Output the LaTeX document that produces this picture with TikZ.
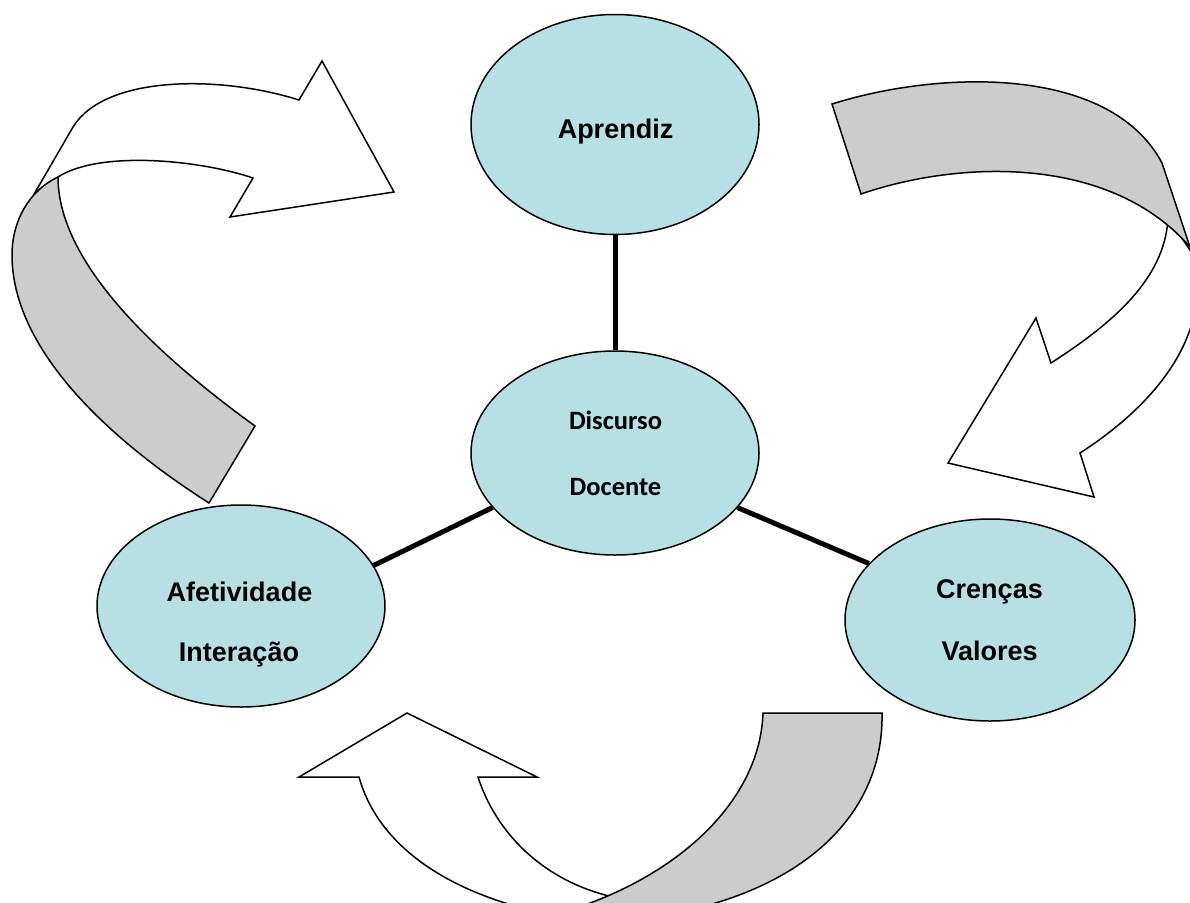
\documentclass[tikz,border=0pt]{standalone}
\usepackage{fontspec}
\setmainfont{Liberation Sans}
\newfontfamily\carlitofont{Carlito}
\usetikzlibrary{shapes.geometric}
\definecolor{paleblue}{RGB}{184,223,227}
\definecolor{bandgray}{RGB}{204,204,204}
\begin{document}
\begin{tikzpicture}[x=1pt,y=-1pt,
  bubble/.style={ellipse,draw=black,line width=1.5pt,fill=paleblue,inner sep=0pt,minimum width=288pt},
  lbl/.style={anchor=base,font=\fontsize{27}{30}\selectfont\bfseries,inner sep=0pt},
  dlbl/.style={anchor=base,font=\fontsize{26.5}{30}\selectfont\carlitofont\bfseries,inner sep=0pt},
  link/.style={line width=5pt},
  bandwhite/.style={draw=black,fill=white,line width=1.5pt,line join=miter},
  bandback/.style={draw=black,fill=bandgray,line width=1.5pt,line join=miter}]
\useasboundingbox (0,0) rectangle (1190,902);

% ---------- top-left curved arrow ----------
\draw[bandwhite] (33,196) -- (73,127) .. controls (105,75) and (220,75) .. (299,100)
  -- (322,61) -- (394,192) -- (230,217) -- (253,178)
  .. controls (200,160) and (100,150) .. (58,177) -- cycle;
\draw[bandback] (58,177) .. controls (30,190) and (12,220) .. (12,255)
  .. controls (12,350) and (110,440) .. (209,503) -- (255,426)
  .. controls (150,350) and (58,260) .. (58,177) -- cycle;

% ---------- top-right curved arrow ----------
\draw[bandwhite] (1168,218) .. controls (1165,280) and (1110,325) .. (1051,363)
  -- (1036,318) -- (948,463) -- (1094,497) -- (1080,453)
  .. controls (1170,395) and (1215,320) .. (1190,250) -- cycle;
\draw[bandback] (832,104) .. controls (940,70) and (1110,65) .. (1162,163)
  -- (1190,247) .. controls (1110,155) and (960,160) .. (861,194) -- cycle;

% ---------- bottom curved arrow ----------
\draw[bandwhite] (359,777) -- (299,777) -- (407,713) -- (537,777) -- (478,777)
  .. controls (495,830) and (540,880) .. (613,897) -- (613,930) -- (530,930) -- (530,910)
  .. controls (430,885) and (375,835) .. (359,777) -- cycle;
\draw[bandback] (763,713) -- (882,713) .. controls (884,810) and (810,885) .. (680,912)
  -- (570,912) -- (570,910) .. controls (680,875) and (760,800) .. (763,713) -- cycle;

% ---------- ellipses ----------
\node[bubble,minimum height=220pt] (apr) at (615,124.5) {};
\node[bubble,minimum height=204pt] (disc) at (615,453) {};
\node[bubble,minimum height=202pt] (afet) at (241,606) {};
\node[bubble,minimum height=202pt,minimum width=290pt] (cren) at (990,620) {};

% ---------- connectors ----------
\draw[link] (apr.-90) -- (disc.90);
\draw[link] (afet.17.9) -- (disc.204.9);
\draw[link] (disc.-24.9) -- (cren.155.5);

% ---------- texts ----------
\node[lbl] (taprendiz) at (615.5,138.3) {Aprendiz};
\node[dlbl] (tdiscurso) at (615.5,429) {Discurso};
\node[dlbl] (tdocente) at (615.5,495) {Docente};
\node[lbl] (tafet) at (239.5,601) {Afetividade};
\node[lbl] (tinter) at (239,661) {Interação};
\node[lbl] (tcren) at (989.5,598.5) {Crenças};
\node[lbl] (tval) at (989.7,660.7) {Valores};
\end{tikzpicture}
\end{document}
